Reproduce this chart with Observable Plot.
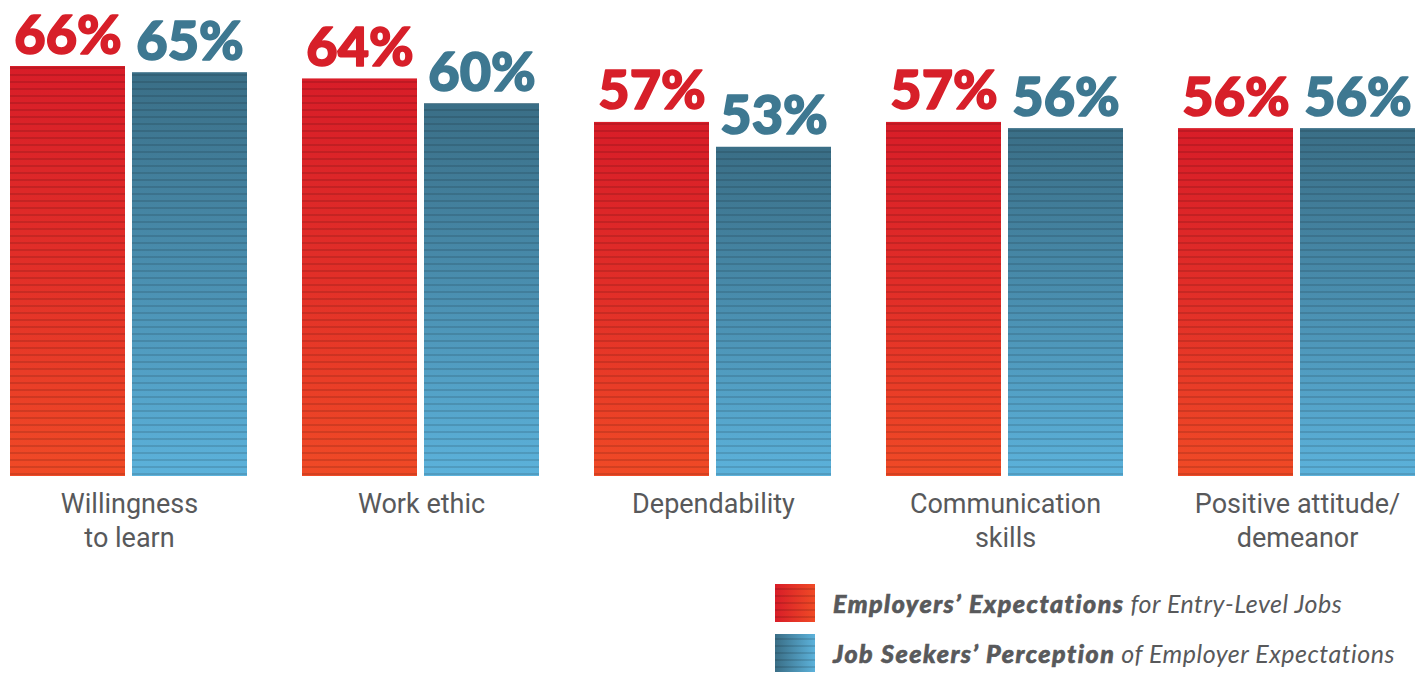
<!DOCTYPE html>
<html>
<head>
<meta charset="utf-8">
<script src="https://cdn.jsdelivr.net/npm/d3@7"></script>
<script src="https://cdn.jsdelivr.net/npm/@observablehq/plot@0.6"></script>
<style>
  html, body { margin: 0; padding: 0; background: #fff; }
  #wrap { position: relative; width: 1426px; height: 673px; overflow: hidden; }
  #legend { position: absolute; left: 775px; top: 584px; font-family: Lato, "Open Sans", sans-serif; color: #58595b; font-size: 25px; font-style: italic; }
  .row { display: flex; align-items: center; height: 38px; margin-bottom: 12px; white-space: nowrap; }
  .sw { width: 40px; height: 38px; margin-right: 18px; flex: none; }
  .b { font-weight: 900; letter-spacing: 1.5px; -webkit-text-stroke: 0.6px #58595b; }
  .l { font-weight: 400; letter-spacing: 0.5px; }
</style>
</head>
<body>
<div id="wrap"></div>
<script>
const categories = ["Willingness to learn", "Work ethic", "Dependability", "Communication skills", "Positive attitude/demeanor"];
const tickLabels = ["Willingness\nto learn", "Work ethic", "Dependability", "Communication\nskills", "Positive attitude/\ndemeanor"];
const series = ["Employers' Expectations", "Job Seekers' Perception"];
const employers = [66, 64, 57, 57, 56];
const seekers = [65, 60, 53, 56, 56];
const textColors = ["#d71f29", "#3e7891"];

const data = [];
categories.forEach((c, i) => {
  data.push({cat: c, series: series[0], value: employers[i]});
  data.push({cat: c, series: series[1], value: seekers[i]});
});

const fmtTick = d => tickLabels[categories.indexOf(d)];
const common = {fx: "cat", x: "series", y: "value"};
const chart = Plot.plot({
  width: 1426,
  height: 572,
  marginLeft: 8,
  marginRight: 8,
  marginTop: 66,
  marginBottom: 96,
  style: {color: "#58595b", background: "white"},
  fx: {domain: categories, paddingInner: 0.1836, paddingOuter: 0, label: null, tickFormat: fmtTick},
  x: {domain: series, paddingInner: 0.057, paddingOuter: 0, axis: null},
  y: {domain: [0, 66], axis: null},
  color: {domain: series, range: ["url(#gRed)", "url(#gBlue)"]},
  marks: [
    Plot.barY(data, {...common, fill: "series"}),
    Plot.barY(data, {...common, fill: "url(#stripes)"}),
    ...series.map((s, k) => Plot.text(data, {
      ...common, filter: d => d.series === s, text: d => d.value + "%",
      fill: textColors[k], stroke: textColors[k], strokeWidth: 1.6, lineAnchor: "bottom", dy: -13,
      fontSize: 54, fontWeight: 900, fontFamily: "Lato"
    })),
    Plot.axisFx({anchor: "bottom", tickSize: 0, tickPadding: 12, fontSize: 27, lineHeight: 1.26, fontFamily: "Roboto", label: null, tickFormat: fmtTick})
  ]
});

d3.select(chart).insert("defs", ":first-child").html(`
  <linearGradient id="gRed" x1="0" y1="0" x2="0" y2="1">
    <stop offset="0" stop-color="#d81d28"/>
    <stop offset="0.5" stop-color="#e22f28"/>
    <stop offset="1" stop-color="#f04a26"/>
  </linearGradient>
  <linearGradient id="gBlue" x1="0" y1="0" x2="0" y2="1">
    <stop offset="0" stop-color="#3a6e86"/>
    <stop offset="0.5" stop-color="#4a8fb0"/>
    <stop offset="1" stop-color="#5cb2db"/>
  </linearGradient>
  <pattern id="stripes" patternUnits="userSpaceOnUse" width="20" height="7">
    <rect x="0" y="4" width="20" height="2" fill="black" fill-opacity="0.12"/>
  </pattern>
`);

const wrap = document.getElementById("wrap");
wrap.appendChild(chart);

const stripeBg = "repeating-linear-gradient(to bottom, rgba(0,0,0,0) 0 4px, rgba(0,0,0,0.12) 4px 6px, rgba(0,0,0,0) 6px 7px)";
const legend = document.createElement("div");
legend.id = "legend";
legend.innerHTML = `
  <div class="row"><div class="sw" style="background:${stripeBg}, linear-gradient(to right, #d81d28, #f04a26)"></div>
    <span><span class="b">Employers’ Expectations</span> <span class="l">for Entry-Level Jobs</span></span></div>
  <div class="row"><div class="sw" style="background:${stripeBg}, linear-gradient(to right, #3a6e86, #5cb2db)"></div>
    <span><span class="b">Job Seekers’ Perception</span> <span class="l">of Employer Expectations</span></span></div>
`;
wrap.appendChild(legend);
</script>
</body>
</html>
